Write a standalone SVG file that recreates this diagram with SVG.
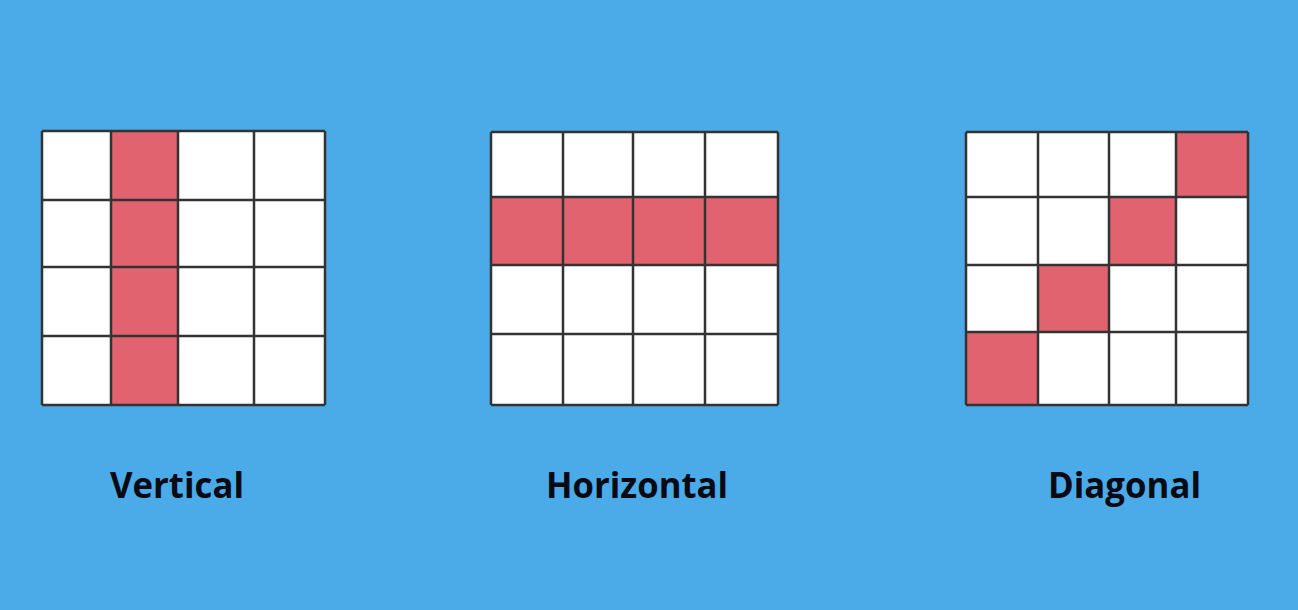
<svg xmlns="http://www.w3.org/2000/svg" width="1298" height="610" viewBox="0 0 1298 610">
<style>
.cell{fill:#ffffff}
.hl{fill:#e0636f}
.ln{stroke:#333;stroke-width:2.5;fill:none}
.lbl{font-family:"Open Sans","Liberation Sans",sans-serif;font-weight:bold;font-size:36px;fill:#0a0a14}
</style>
<rect width="1298" height="610" fill="#4aabe8"/>
<g id="vertical">
<rect class="cell" x="42" y="131" width="283" height="275"/>
<rect class="hl" x="111" y="131" width="67" height="275"/>
<path class="ln" d="M42 131H325M42 200H325M42 267H325M42 336H325M42 405H325M42 131V405M111 131V405M178 131V405M254 131V405M325 131V405"/>
</g>
<g id="horizontal">
<rect class="cell" x="491" y="132" width="287" height="274"/>
<rect class="hl" x="491" y="197" width="287" height="68"/>
<path class="ln" d="M491 132H778M491 197H778M491 265H778M491 334H778M491 405H778M491 132V405M563 132V405M633 132V405M705 132V405M778 132V405"/>
</g>
<g id="diagonal">
<rect class="cell" x="966" y="132" width="282" height="274"/>
<rect class="hl" x="1176" y="132" width="72" height="65"/>
<rect class="hl" x="1109" y="197" width="67" height="68"/>
<rect class="hl" x="1038" y="265" width="71" height="67"/>
<rect class="hl" x="966" y="332" width="72" height="73"/>
<path class="ln" d="M966 132H1248M966 197H1248M966 265H1248M966 332H1248M966 405H1248M966 132V405M1038 132V405M1109 132V405M1176 132V405M1248 132V405"/>
</g>
<g id="labels">
<text class="lbl" x="110" y="498" textLength="134" lengthAdjust="spacingAndGlyphs">Vertical</text>
<text class="lbl" x="546" y="498" textLength="182" lengthAdjust="spacingAndGlyphs">Horizontal</text>
<text class="lbl" x="1048" y="498" textLength="153" lengthAdjust="spacingAndGlyphs">Diagonal</text>
</g>
</svg>
